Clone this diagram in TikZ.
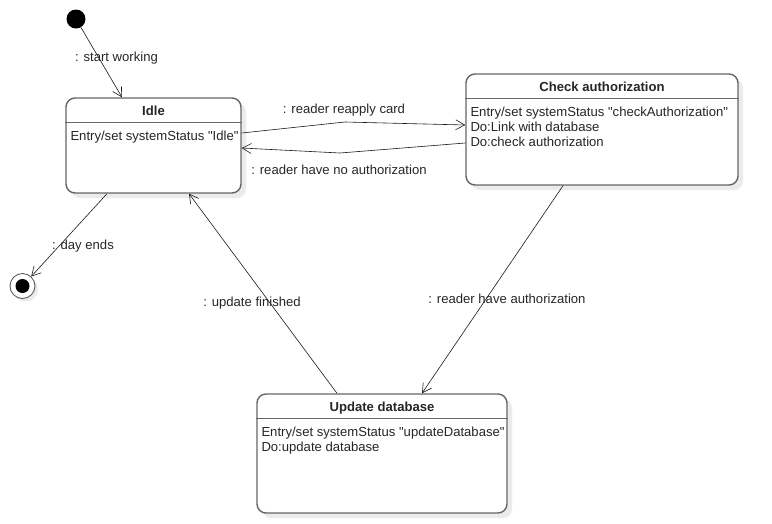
\documentclass[tikz,border=0pt]{standalone}
\usepackage{fontspec}
\setmainfont{Liberation Sans}[Ligatures=TeXOff]
\usetikzlibrary{arrows.meta,shadows}

\begin{document}
\begin{tikzpicture}[x=1pt, y=-1pt,
  every node/.style={font=\fontsize{13.1}{14.8}\selectfont, text=black!85},
  state/.style={draw=black!60, line width=1.4pt, rounded corners=9pt, fill=white, inner sep=0pt,
    drop shadow={fill=black!8, shadow xshift=5pt, shadow yshift=-5pt, opacity=1}},
  title/.style={font=\fontsize{13.1}{14.8}\selectfont\bfseries, anchor=north, inner sep=0pt},
  body/.style={align=left, anchor=north west, inner sep=0pt},
  sep/.style={draw=black!60, line width=1.4pt},
  trans/.style={draw=black!90, line width=0.6pt, -{Straight Barb[length=9pt,width=10pt]}},
  lbl/.style={inner sep=1pt},
  initial/.style={circle, fill=black, minimum size=19pt, inner sep=0pt},
  final/.style={circle, draw=black!70, line width=0.8pt, fill=white, minimum size=25pt, inner sep=0pt,
    drop shadow={fill=black!8, shadow xshift=3pt, shadow yshift=-3pt, opacity=1},
    path picture={\fill[black] (path picture bounding box.center) circle (7pt);}}]
  \useasboundingbox (0,0) rectangle (772,523);

  \node[initial] (start) at (76,19) {};
  \node[final] (end) at (22.5,286) {};

  \node[state, minimum width=175, minimum height=95] (idle) at (153.5,145.5) {};
  \node[title] (idletitle) at ([yshift=-8.5]idle.north) {Idle};
  \draw[sep] ([yshift=-25]idle.north west) -- ([yshift=-25]idle.north east);
  \node[body] (idlebody) at ([xshift=5,yshift=-33.5]idle.north west) {Entry/set systemStatus "Idle"};

  \node[state, minimum width=272, minimum height=111] (check) at (602,129.5) {};
  \node[title] (checktitle) at ([yshift=-8.5]check.north) {Check authorization};
  \draw[sep] ([yshift=-25]check.north west) -- ([yshift=-25]check.north east);
  \node[body] (checkbody) at ([xshift=5,yshift=-33.5]check.north west) {Entry/set systemStatus "checkAuthorization"\\Do:Link with database\\Do:check authorization};

  \node[state, minimum width=250, minimum height=119] (update) at (382,453.5) {};
  \node[title] (updatetitle) at ([yshift=-8.5]update.north) {Update database};
  \draw[sep] ([yshift=-25]update.north west) -- ([yshift=-25]update.north east);
  \node[body] (updatebody) at ([xshift=5,yshift=-33.5]update.north west) {Entry/set systemStatus "updateDatabase"\\Do:update database};

  \coordinate (cardbend) at (345,122);
  \coordinate (denybend) at (340,153);

  \draw[trans] (start) -- ([xshift=-31.5]idle.north);
  \draw[trans] ([xshift=-46.5]idle.south) -- (end);
  \draw[trans] ([yshift=12.5]idle.east) -- (cardbend) -- ([yshift=4.5]check.west);
  \draw[trans] ([yshift=-13.5]check.west) -- (denybend) -- ([yshift=-2.5]idle.east);
  \draw[trans] ([xshift=-39]check.south) -- ([xshift=40]update.north);
  \draw[trans] ([xshift=-45]update.north) -- ([xshift=35.5]idle.south);

  \node[lbl] (startlbl) at (116.5,58) {: start working};
  \node[lbl] (endlbl) at (83,246) {: day ends};
  \node[lbl] (cardlbl) at (344,110) {: reader reapply card};
  \node[lbl] (denylbl) at (339,170) {: reader have no authorization};
  \node[lbl] (grantlbl) at (507,299) {: reader have authorization};
  \node[lbl] (donelbl) at (252,303) {: update finished};
\end{tikzpicture}
\end{document}
